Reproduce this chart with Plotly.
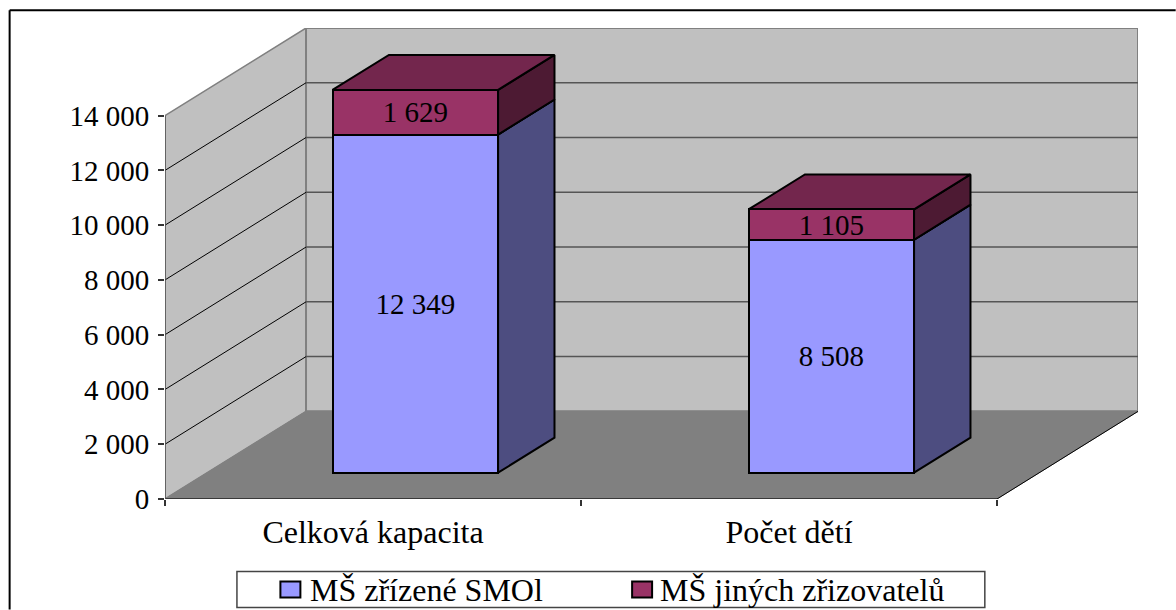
"""Stacked 3D-look bar chart: kapacita a počet dětí v MŠ."""

import plotly.graph_objects as go

categories = ["Celková kapacita", "Počet dětí"]
smol_values = [12349, 8508]
other_values = [1629, 1105]
series_names = ["MŠ zřízené SMOl", "MŠ jiných zřizovatelů"]
series_colors = ["#9999FF", "#993366"]
y_ticks = [0, 2000, 4000, 6000, 8000, 10000, 12000, 14000]

FONT = "Liberation Serif, Times New Roman, serif"
WIDTH, HEIGHT = 1176, 610
MARGIN = dict(l=164.5, r=37.7, t=27.7, b=110.7)

# hloubka "3D" krabice v jednotkách os
DEPTH_X = 0.339
DEPTH_Y = 3200
BAR_WIDTH = 0.398
BAR_FRONT = 0.30  # přední a zadní rovina sloupce (podíl hloubky)
BAR_BACK = 0.70
Y_TOP = max(y_ticks)


def project(x, y, depth):
    return x + depth * DEPTH_X, y + depth * DEPTH_Y


def polygon(points, fill, line_color, line_width=2):
    xs = [p[0] for p in points] + [points[0][0]]
    ys = [p[1] for p in points] + [points[0][1]]
    return go.Scatter(
        x=xs, y=ys, mode="lines", fill="toself", fillcolor=fill,
        line=dict(color=line_color, width=line_width),
        showlegend=False, hoverinfo="skip",
    )


def segment(p0, p1, color, width=1.0):
    return go.Scatter(
        x=[p0[0], p1[0]], y=[p0[1], p1[1]], mode="lines",
        line=dict(color=color, width=width),
        showlegend=False, hoverinfo="skip",
    )


def block_faces(center, low, high, top_color, side_color):
    """Horní a boční stěna jednoho dílu sloupce."""
    left, right = center - BAR_WIDTH / 2, center + BAR_WIDTH / 2
    top = [project(left, high, BAR_FRONT), project(right, high, BAR_FRONT),
           project(right, high, BAR_BACK), project(left, high, BAR_BACK)]
    side = [project(right, low, BAR_FRONT), project(right, high, BAR_FRONT),
            project(right, high, BAR_BACK), project(right, low, BAR_BACK)]
    return [polygon(side, side_color, "black"), polygon(top, top_color, "black")]


def paper_x(px):
    return (px - MARGIN["l"]) / (WIDTH - MARGIN["l"] - MARGIN["r"])


def paper_y(px):
    plot_h = HEIGHT - MARGIN["t"] - MARGIN["b"]
    return 1 - (px - MARGIN["t"]) / plot_h


def paper_line(x0, y0, x1, y1):
    return dict(type="line", xref="paper", yref="paper",
                x0=paper_x(x0), x1=paper_x(x1), y0=paper_y(y0), y1=paper_y(y1),
                line=dict(color="black", width=2))


def paper_rect(x0, y0, x1, y1, fill, color, width):
    return dict(type="rect", xref="paper", yref="paper",
                x0=paper_x(x0), x1=paper_x(x1), y0=paper_y(y0), y1=paper_y(y1),
                fillcolor=fill, line=dict(color=color, width=width))


fig = go.Figure()

x_end = len(categories)

# stěny a podlaha
fig.add_trace(polygon(
    [project(0, 0, 0), project(0, Y_TOP, 0), project(0, Y_TOP, 1), project(0, 0, 1)],
    "#C0C0C0", "#808080", 1.5,
))
fig.add_trace(polygon(
    [project(0, 0, 1), project(0, Y_TOP, 1), project(x_end, Y_TOP, 1), project(x_end, 0, 1)],
    "#C0C0C0", "#808080", 2,
))
fig.add_trace(polygon(
    [project(0, 0, 0), project(x_end, 0, 0), project(x_end, 0, 1), project(0, 0, 1)],
    "#808080", "#808080", 1,
))

# mřížka
for tick in y_ticks[1:-1]:
    fig.add_trace(segment(project(0, tick, 0), project(0, tick, 1), "black", 1))
    fig.add_trace(segment(project(0, tick, 1), project(x_end, tick, 1), "#555555", 1.5))

# hrany podlahy a svislá osa
fig.add_trace(segment(project(0, 0, 0), project(x_end, 0, 0), "#222222", 1.5))
fig.add_trace(segment(project(x_end, 0, 0), project(x_end, 0, 1), "black", 1))
fig.add_trace(segment(project(0, 0, 0), project(0, Y_TOP, 0), "#555555", 1.5))

# horní a boční stěny sloupců
for i in range(len(categories)):
    center = i + 0.5
    fig.add_traces(block_faces(center, 0, smol_values[i], "#73734D", "#4D4D80"))
    fig.add_traces(block_faces(
        center, smol_values[i], smol_values[i] + other_values[i], "#73264D", "#4D1A33",
    ))

# přední stěny jako skutečné sloupce na posunutých osách
for name, values, color in zip(series_names, [smol_values, other_values], series_colors):
    fig.add_trace(go.Bar(
        x=[i + 0.5 for i in range(len(categories))],
        y=values,
        width=BAR_WIDTH,
        name=name,
        xaxis="x2",
        yaxis="y2",
        marker=dict(color=color, line=dict(color="black", width=2)),
        text=values,
        texttemplate="%{text:,d}",
        textposition="inside",
        insidetextanchor="middle",
        textangle=0,
        constraintext="none",
        textfont=dict(family=FONT, size=29, color="black"),
        showlegend=False,
        hoverinfo="skip",
    ))

x_range = [0, x_end + DEPTH_X]
y_range = [0, Y_TOP + DEPTH_Y]
x_off = BAR_FRONT * DEPTH_X
y_off = BAR_FRONT * DEPTH_Y

# rámeček grafu a legenda (nativní legenda je při tomto písmu moc vysoká)
shapes = [
    paper_line(9, 10, WIDTH, 10),
    paper_line(9, 10, 9, HEIGHT),
    paper_rect(236.5, 572, 985, 608, "white", "#444444", 1.5),
]
annotations = []
for name, swatch_x, text_x, color in zip(series_names, [280, 632], [308, 658], series_colors):
    shapes.append(paper_rect(swatch_x, 582, swatch_x + 20, 598, color, "black", 2))
    annotations.append(dict(
        text=name, xref="paper", yref="paper", x=paper_x(text_x), y=paper_y(590),
        xanchor="left", yanchor="middle", showarrow=False,
        font=dict(family=FONT, size=32, color="black"),
    ))

fig.update_layout(
    width=WIDTH,
    height=HEIGHT,
    autosize=False,
    separators=". ",
    paper_bgcolor="white",
    plot_bgcolor="white",
    barmode="stack",
    showlegend=False,
    font=dict(family=FONT, size=29, color="black"),
    margin=dict(autoexpand=False, **MARGIN),
    xaxis=dict(
        range=x_range,
        tickmode="array",
        tickvals=[i + 0.5 for i in range(len(categories))],
        ticktext=categories,
        tickfont=dict(size=32),
        ticks="",
        ticklabelstandoff=11,
        showgrid=False,
        zeroline=False,
        showline=False,
        minor=dict(tickmode="array", tickvals=list(range(x_end + 1)), ticks="outside",
                   ticklen=6, tickcolor="#333333", tickwidth=1.5, showgrid=False),
    ),
    yaxis=dict(
        range=y_range,
        tickmode="array",
        tickvals=y_ticks,
        tickformat=",d",
        ticks="outside",
        ticklen=6,
        tickcolor="#333333",
        tickwidth=1.5,
        ticklabelstandoff=3,
        showgrid=False,
        zeroline=False,
        showline=False,
    ),
    xaxis2=dict(
        overlaying="x", anchor="y2", visible=False,
        range=[x_range[0] - x_off, x_range[1] - x_off],
    ),
    yaxis2=dict(
        overlaying="y", anchor="x2", visible=False,
        range=[y_range[0] - y_off, y_range[1] - y_off],
    ),
    shapes=shapes,
    annotations=annotations,
)

fig.write_html(
    "out.html",
    config={"displayModeBar": False},
    post_script="document.body.style.margin = '0';",
)
